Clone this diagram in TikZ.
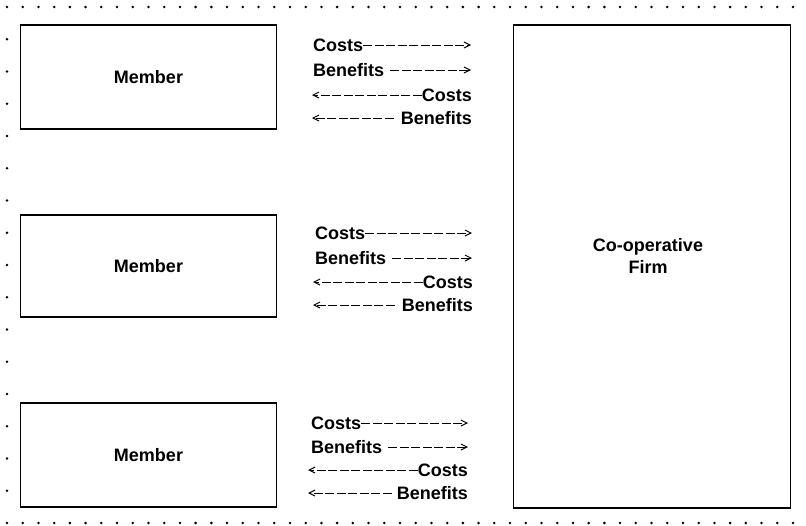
\documentclass[tikz,border=0pt]{standalone}
\usepackage{fontspec}
\setmainfont{Liberation Sans}
\usetikzlibrary{arrows.meta}
\begin{document}
\begin{tikzpicture}[x=1pt,y=-1pt,
  box/.style={draw,line width=1.4pt},
  lbl/.style={inner sep=0pt,text height=13pt,text depth=0pt,font=\fontsize{18}{21}\selectfont\bfseries},
  flow/.style={dashed,dash pattern=on 9pt off 2.5pt,line width=1pt,-{Straight Barb[length=6pt,width=6pt]}},
  dot/.style={fill=black}]
\useasboundingbox (0,0) rectangle (806,525);
% dotted frame
\foreach \i in {0,...,50} {
  \fill[dot] (7+15.72*\i,7) circle (1.4pt);
  \fill[dot] (7+15.72*\i,523) circle (1.4pt);
}
\foreach \k in {1,...,15} \fill[dot] (7,7+32.25*\k) circle (1.4pt);
% boxes
\node[box,minimum width=256pt,minimum height=104pt,lbl] (m1) at (148.5,77) {Member};
\node[box,minimum width=256pt,minimum height=102pt,lbl] (m2) at (148.5,266) {Member};
\node[box,minimum width=256pt,minimum height=104pt,lbl] (m3) at (148.5,455) {Member};
\node[box,minimum width=277pt,minimum height=483pt] (cf) at (652,266.5) {};
\node[lbl,align=center] (cft) at (648,267) {Co-operative\\[1pt]Firm};
% group 1
\node[lbl,anchor=west] (a1) at (313,45) {Costs};
\coordinate (a1e) at (471,45);
\draw[flow] (a1.east) -- (a1e);
\node[lbl,anchor=west] (b1) at (313,70) {Benefits};
\coordinate (b1s) at ([xshift=6pt]b1.east);
\coordinate (b1e) at (471,70);
\draw[flow] (b1s) -- (b1e);
\node[lbl,anchor=east] (c1) at (472,95) {Costs};
\coordinate (c1e) at (312,95);
\draw[flow] (c1.west) -- (c1e);
\node[lbl,anchor=east] (d1) at (472,118) {Benefits};
\coordinate (d1s) at ([xshift=-7pt]d1.west);
\coordinate (d1e) at (312,118);
\draw[flow] (d1s) -- (d1e);
% group 2
\node[lbl,anchor=west] (a2) at (315,233) {Costs};
\coordinate (a2e) at (472,233);
\draw[flow] (a2.east) -- (a2e);
\node[lbl,anchor=west] (b2) at (315,258) {Benefits};
\coordinate (b2s) at ([xshift=6pt]b2.east);
\coordinate (b2e) at (472,258);
\draw[flow] (b2s) -- (b2e);
\node[lbl,anchor=east] (c2) at (473,282) {Costs};
\coordinate (c2e) at (313,282);
\draw[flow] (c2.west) -- (c2e);
\node[lbl,anchor=east] (d2) at (473,305) {Benefits};
\coordinate (d2s) at ([xshift=-7pt]d2.west);
\coordinate (d2e) at (313,305);
\draw[flow] (d2s) -- (d2e);
% group 3
\node[lbl,anchor=west] (a3) at (311,423) {Costs};
\coordinate (a3e) at (468,423);
\draw[flow] (a3.east) -- (a3e);
\node[lbl,anchor=west] (b3) at (311,447) {Benefits};
\coordinate (b3s) at ([xshift=6pt]b3.east);
\coordinate (b3e) at (468,447);
\draw[flow] (b3s) -- (b3e);
\node[lbl,anchor=east] (c3) at (468,470) {Costs};
\coordinate (c3e) at (308,470);
\draw[flow] (c3.west) -- (c3e);
\node[lbl,anchor=east] (d3) at (468,493) {Benefits};
\coordinate (d3s) at ([xshift=-5pt]d3.west);
\coordinate (d3e) at (308,493);
\draw[flow] (d3s) -- (d3e);
\end{tikzpicture}
\end{document}
